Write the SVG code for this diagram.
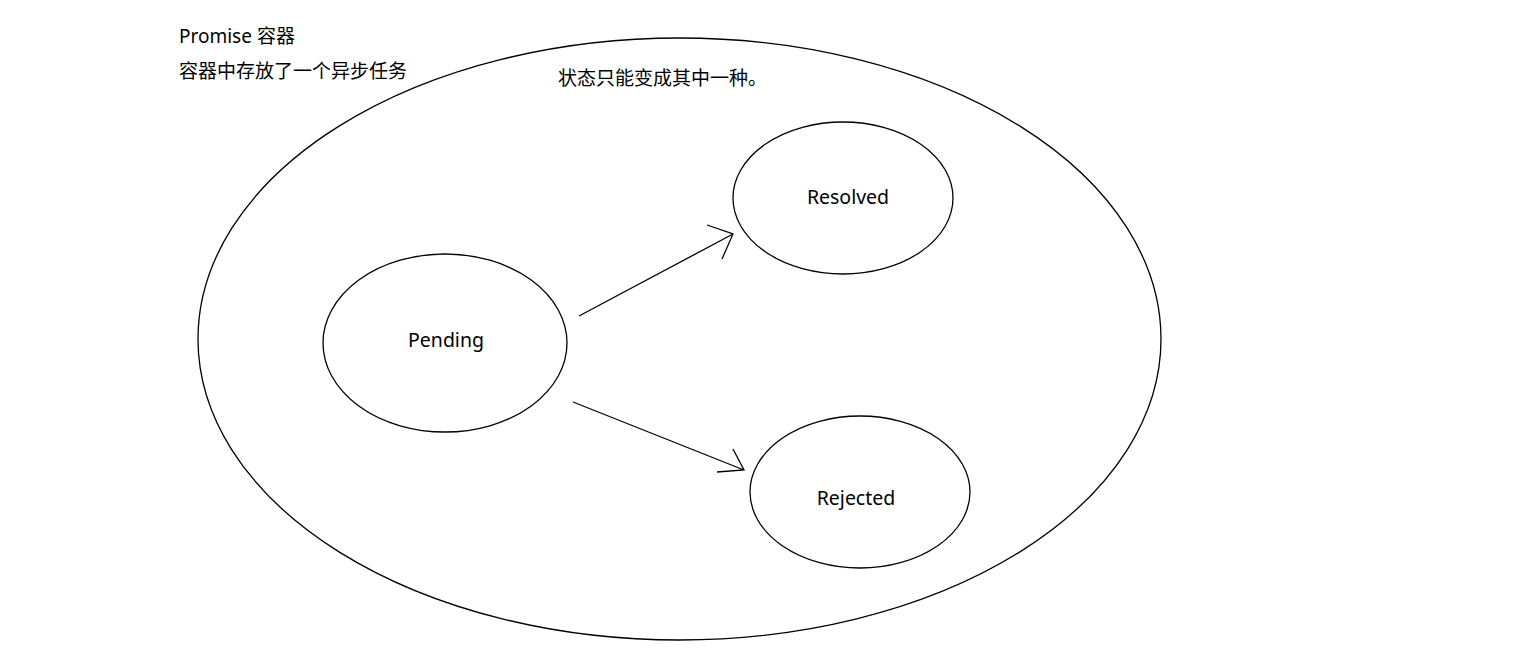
<svg xmlns="http://www.w3.org/2000/svg" width="1523" height="665" viewBox="0 0 1523 665">
<style>
.shape{fill:none;stroke:#000;stroke-width:1.3}
.t{font-family:"Noto Sans","Noto Sans CJK SC",sans-serif;font-size:19px;fill:#000}
.n{font-size:19.5px}
.c{text-anchor:middle}
.ln{fill:none;stroke:#000;stroke-width:1.3}
</style>
<rect width="1523" height="665" fill="#fff"/>
<g id="container">
<ellipse class="shape" cx="679.5" cy="339" rx="481.5" ry="301"/>
<text class="t" x="179" y="43">Promise 容器</text>
<text class="t" x="179" y="78">容器中存放了一个异步任务</text>
<text class="t" x="558" y="85">状态只能变成其中一种。</text>
</g>
<g id="pending">
<ellipse class="shape" cx="445" cy="343" rx="122" ry="89"/>
<text class="t n c" x="446" y="347">Pending</text>
</g>
<g id="resolved">
<ellipse class="shape" cx="843" cy="198" rx="110" ry="76"/>
<text class="t n c" x="848" y="204">Resolved</text>
</g>
<g id="rejected">
<ellipse class="shape" cx="860" cy="492" rx="110" ry="76"/>
<text class="t n c" x="856" y="505">Rejected</text>
</g>
<g id="connectors">
<path class="ln" d="M579 316 L733 234 M707 225 L733 234 L722 259"/>
<path class="ln" d="M573 402 L744 470 M733 449 L744 470 L717 472"/>
</g>
</svg>
